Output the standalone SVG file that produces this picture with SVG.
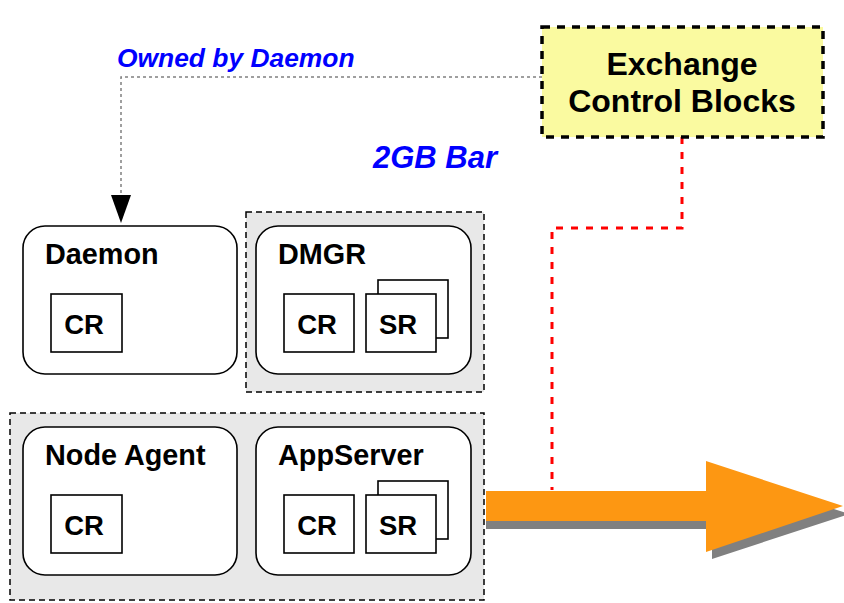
<svg xmlns="http://www.w3.org/2000/svg" width="844" height="603" viewBox="0 0 844 603">
  <style>
    text { font-family: "Liberation Sans", Arial, sans-serif; font-weight: bold; }
    .proc { fill: #ffffff; stroke: #000000; stroke-width: 1.6; }
    .reg { fill: #ffffff; stroke: #000000; stroke-width: 1.6; }
    .group { fill: #e8e8e8; stroke: #000000; stroke-width: 1.5; stroke-dasharray: 6 4; }
    .title { font-size: 28.8px; fill: #000000; }
    .reglbl { font-size: 27.5px; fill: #000000; text-anchor: middle; }
    .note { fill: #0000ff; font-style: italic; }
  </style>

  <!-- background groups -->
  <rect id="bar-group-dmgr" class="group" x="246" y="212" width="238" height="180"/>
  <rect id="bar-group-node" class="group" x="10" y="413" width="474" height="187"/>

  <!-- connectors -->
  <g id="connectors">
    <path d="M542,77 H121 V195" fill="none" stroke="#808080" stroke-width="1.5" stroke-dasharray="3 3"/>
    <path d="M111,195 H131 L121,223 Z" fill="#000000"/>
    <path d="M682,137 V228 H552 V490" fill="none" stroke="#ff0000" stroke-width="3" stroke-dasharray="7 8"/>
    <!-- big flow arrow with shadow -->
    <polygon points="486,499 712,499 712,469 849,514 712,559 712,529 486,529" fill="#808080"/>
    <polygon points="486,491 706,491 706,461 843,506 706,552 706,521 486,521" fill="#fd9712"/>
  </g>

  <!-- exchange control blocks -->
  <g id="ecb">
    <rect x="542" y="27" width="281" height="110" fill="#fafaa0" stroke="#000000" stroke-width="3.5" stroke-dasharray="8 7"/>
    <text x="682" y="75" font-size="32" text-anchor="middle">Exchange</text>
    <text x="682" y="112" font-size="32" text-anchor="middle">Control Blocks</text>
  </g>

  <text class="note" x="117" y="67" font-size="26.4">Owned by Daemon</text>
  <text class="note" x="373" y="168" font-size="31">2GB Bar</text>

  <!-- Daemon -->
  <g id="daemon">
    <rect class="proc" x="23" y="226" width="214" height="148" rx="22"/>
    <text class="title" x="45" y="264">Daemon</text>
    <rect class="reg" x="51" y="294" width="71" height="58"/>
    <text class="reglbl" x="84" y="334">CR</text>
  </g>

  <!-- DMGR -->
  <g id="dmgr">
    <rect class="proc" x="256" y="226" width="215" height="148" rx="22"/>
    <text class="title" x="278" y="264">DMGR</text>
    <rect class="reg" x="284" y="294" width="70" height="58"/>
    <text class="reglbl" x="317" y="334">CR</text>
    <rect class="reg" x="378" y="280" width="70" height="58"/>
    <rect class="reg" x="366" y="294" width="70" height="58"/>
    <text class="reglbl" x="398" y="334">SR</text>
  </g>

  <!-- Node Agent -->
  <g id="node-agent">
    <rect class="proc" x="23" y="427" width="214" height="148" rx="22"/>
    <text class="title" x="45" y="465">Node Agent</text>
    <rect class="reg" x="51" y="495" width="71" height="58"/>
    <text class="reglbl" x="84" y="535">CR</text>
  </g>

  <!-- AppServer -->
  <g id="appserver">
    <rect class="proc" x="256" y="427" width="215" height="148" rx="22"/>
    <text class="title" x="278" y="465">AppServer</text>
    <rect class="reg" x="284" y="495" width="70" height="58"/>
    <text class="reglbl" x="317" y="535">CR</text>
    <rect class="reg" x="378" y="481" width="70" height="58"/>
    <rect class="reg" x="366" y="495" width="70" height="58"/>
    <text class="reglbl" x="398" y="535">SR</text>
  </g>
</svg>
